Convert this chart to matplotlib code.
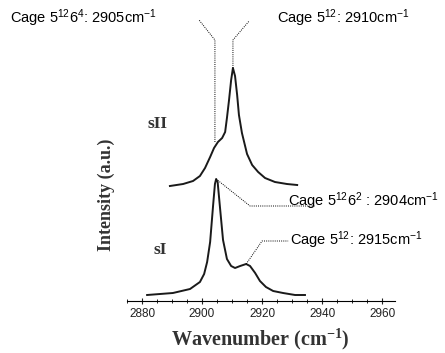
import matplotlib
matplotlib.use("Agg")
import matplotlib.pyplot as plt
from matplotlib.ticker import MultipleLocator

plt.rcParams['font.family'] = ['Liberation Sans', 'DejaVu Sans']
plt.rcParams['mathtext.fontset'] = 'custom'
plt.rcParams['mathtext.rm'] = 'Liberation Sans'
plt.rcParams['mathtext.it'] = 'Liberation Sans'
plt.rcParams['mathtext.bf'] = 'Liberation Serif:bold'

# sI spectrum (wavenumber, intensity a.u.)
w_sI = [2881.7, 2886.0, 2890.3, 2896.0, 2899.3, 2900.7, 2901.7, 2902.7, 2903.7,
        2904.3, 2904.7, 2905.2, 2906.0, 2907.0, 2908.3, 2909.7, 2911.0, 2912.7,
        2914.7, 2916.0, 2917.7, 2919.3, 2921.3, 2923.7, 2927.0, 2931.0, 2934.3]
i_sI = [6, 7, 8, 12, 19, 27, 39, 59, 96,
        117, 122, 119, 93, 61, 42, 35, 33, 35,
        37, 35, 28, 20, 14, 10, 8, 6, 6]

# sII spectrum (offset upward)
w_sII = [2889.3, 2893.7, 2897.0, 2899.3, 2901.0, 2902.7, 2904.0, 2905.3, 2906.7,
         2907.7, 2908.3, 2909.0, 2909.7, 2910.3, 2911.0, 2911.7, 2912.3, 2913.3,
         2915.0, 2916.7, 2918.7, 2921.0, 2924.3, 2928.3, 2931.7]
i_sII = [115, 117, 120, 125, 133, 144, 153, 159, 163,
         169, 183, 201, 221, 233, 225, 206, 186, 168,
         147, 136, 129, 123, 119, 117, 116]

xticks = [2880, 2900, 2920, 2940, 2960]

fig = plt.figure(figsize=(4.45, 3.53), dpi=100)
ax = fig.add_axes([127 / 445, 52 / 353, 268 / 445, 301 / 353])

ax.plot(w_sI, i_sI, color='#1a1a1a', lw=1.4)
ax.plot(w_sII, i_sII, color='#1a1a1a', lw=1.4)

ax.set_xlim(2875, 2964.3)
ax.set_ylim(0, 301)
ax.set_xticks(xticks)
ax.xaxis.set_minor_locator(MultipleLocator(5))
ax.tick_params(axis='x', which='major', direction='inout', length=4, width=0.8,
               labelsize=8.5, pad=3, colors='#222222')
ax.tick_params(axis='x', which='minor', direction='inout', length=2.5, width=0.6)
ax.set_yticks([])
for s in ['left', 'top', 'right']:
    ax.spines[s].set_visible(False)
ax.spines['bottom'].set_linewidth(0.8)
ax.patch.set_alpha(0)

dot = dict(color='black', lw=0.7, ls=(0, (1, 1.2)), clip_on=False)
# sII callouts
ax.plot([2904.3, 2904.3, 2899.0], [159, 261, 281], **dot)
ax.plot([2910.3, 2910.3, 2915.7], [233, 261, 280], **dot)
# sI callouts
ax.plot([2904.7, 2916.0, 2937.7], [122, 95, 95], **dot)
ax.plot([2914.7, 2920.0, 2928.7], [37, 60, 60], **dot)

tk = dict(fontsize=10.5, color='black', va='center', ha='left', clip_on=False)
ax.text(2836, 283, r'Cage 5$^{12}$6$^{4}$: 2905cm$^{-1}$', **tk)
ax.text(2925, 283, r'Cage 5$^{12}$: 2910cm$^{-1}$', **tk)
ax.text(2928.7, 100, r'Cage 5$^{12}$6$^{2}$ : 2904cm$^{-1}$', **tk)
ax.text(2929.3, 61, r'Cage 5$^{12}$: 2915cm$^{-1}$', **tk)

serif = ['Liberation Serif', 'DejaVu Serif']
ax.text(2885, 177, 'sII', family=serif, fontweight='bold', fontsize=12.5,
        color='#333333', ha='center', va='center')
ax.text(2886, 51, 'sI', family=serif, fontweight='bold', fontsize=12.5,
        color='#333333', ha='center', va='center')

fig.text(106 / 445, 1 - 195 / 353, 'Intensity (a.u.)', family=serif,
         fontweight='bold', fontsize=13, color='#333333', rotation=90,
         ha='center', va='center')
fig.text(260 / 445, 1 - 339 / 353, 'Wavenumber (cm$^{\\mathbf{-1}}$)', family=serif,
         fontweight='bold', fontsize=14.5, color='#333333', ha='center', va='center')

fig.savefig('out.png', dpi=100)
